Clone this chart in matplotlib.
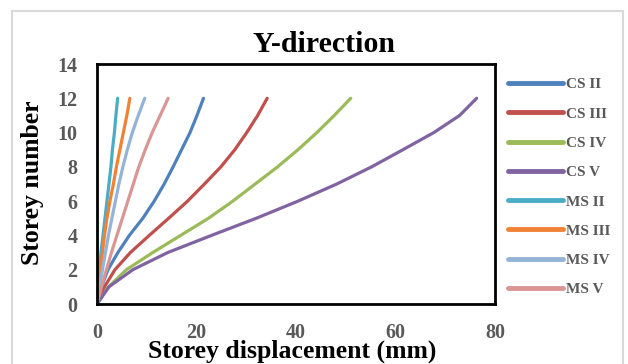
import matplotlib.pyplot as plt
from matplotlib.patches import Rectangle

# storey displacement (mm) at each storey level, Y-direction
storeys = list(range(13))
cs2 = [0, 0.9, 2.2, 4.2, 6.5, 9.2, 11.5, 13.5, 15.3, 17.0, 18.7, 20.1, 21.4]
cs3 = [0, 1.5, 3.6, 6.7, 10.5, 14.4, 18.2, 21.6, 24.9, 27.7, 30.1, 32.3, 34.2]
cs4 = [0, 2.3, 5.9, 11.2, 16.8, 22.4, 27.3, 31.8, 36.3, 40.4, 44.2, 47.7, 51.0]
cs5 = [0, 2.4, 7.2, 14.2, 23.0, 32.0, 40.4, 48.2, 55.2, 61.5, 67.7, 72.9, 76.3]
ms2 = [0, 0.2, 0.5, 0.8, 1.2, 1.6, 2.0, 2.4, 2.8, 3.1, 3.5, 3.8, 4.15]
ms3 = [0, 0.3, 0.7, 1.1, 1.5, 2.0, 2.6, 3.3, 3.9, 4.6, 5.3, 6.0, 6.6]
ms4 = [0, 0.5, 1.1, 1.7, 2.3, 3.0, 3.7, 4.4, 5.2, 6.1, 7.1, 8.3, 9.6]
ms5 = [0, 0.9, 1.9, 2.9, 4.0, 5.1, 6.2, 7.3, 8.4, 9.7, 11.1, 12.7, 14.3]

series = [cs2, cs3, cs4, cs5, ms2, ms3, ms4, ms5]
names = ['CS II', 'CS III', 'CS IV', 'CS V', 'MS II', 'MS III', 'MS IV', 'MS V']
colors = ['#4F81BD', '#C0504D', '#9BBB59', '#8064A2',
          '#4BACC6', '#F08236', '#95B3D7', '#D99694']

serif = 'Liberation Serif'
grey = '#595959'

fig = plt.figure(figsize=(6.28, 3.64), dpi=100)
fig.patches.append(Rectangle((12 / 628, -0.1), (623 - 12) / 628, 1.1 - 11 / 364,
                             transform=fig.transFigure, fill=False,
                             edgecolor='#D9D9D9', linewidth=1.5))

ax = fig.add_axes([97 / 628, 1 - 304 / 364, (495 - 97) / 628, (304 - 64) / 364])
for vals, name, c in zip(series, names, colors):
    ax.plot(vals, storeys, color=c, linewidth=2.3, label=name,
            solid_capstyle='round', solid_joinstyle='round')

ax.set_xlim(0, 80)
ax.set_ylim(0, 14)
ax.set_xticks([0, 20, 40, 60, 80])
ax.set_yticks(range(0, 15, 2))
for s in ax.spines.values():
    s.set_linewidth(2)
    s.set_color('black')
ax.tick_params(length=0)
ax.tick_params(axis='x', pad=14)
ax.tick_params(axis='y', pad=14)
for lab in ax.get_xticklabels() + ax.get_yticklabels():
    lab.set_fontfamily(serif)
    lab.set_fontweight('bold')
    lab.set_fontsize(14.5)
    lab.set_color(grey)

fig.text(324 / 628, 1 - 45 / 364, 'Y-direction', ha='center', va='center',
         family=serif, fontweight='bold', fontsize=21.5)
fig.text(292 / 628, 1 - 351 / 364, 'Storey displacement (mm)', ha='center',
         va='center', family=serif, fontweight='bold', fontsize=18.5)
fig.text(33 / 628, 1 - 183 / 364, 'Storey number', ha='center', va='center',
         rotation=90, family=serif, fontweight='bold', fontsize=18.5)

leg = fig.legend(loc='upper left', bbox_to_anchor=(494 / 628, 1 - 64 / 364),
                 frameon=False, handlelength=3.6, handletextpad=0.2,
                 labelspacing=1.02, prop={'family': serif, 'weight': 'bold',
                                          'size': 11})
for t in leg.get_texts():
    t.set_color(grey)
for h in leg.get_lines():
    h.set_linewidth(3.5)

fig.savefig('out.png', dpi=100)
